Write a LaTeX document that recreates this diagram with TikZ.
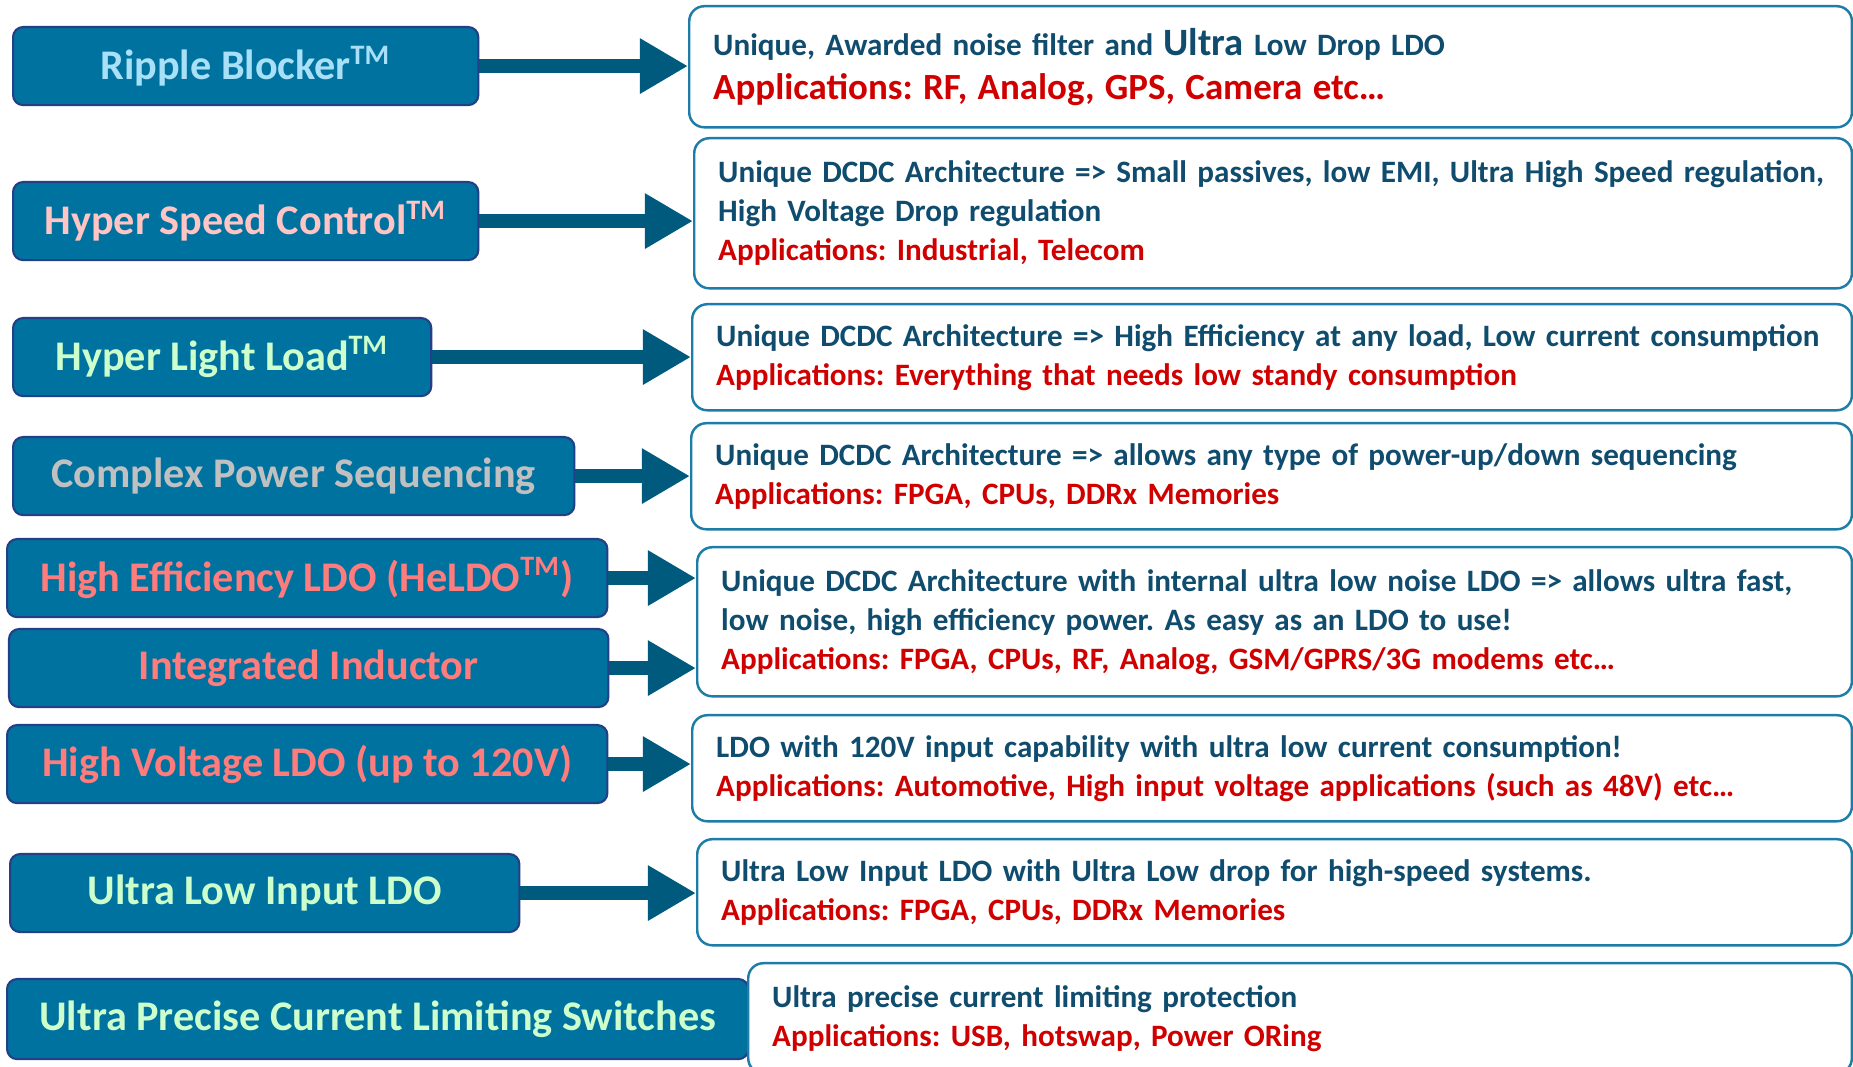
\documentclass[tikz,border=0pt]{standalone}
\usepackage{fontspec}
\setmainfont{Carlito}
\frenchspacing
\hyphenpenalty=10000
\usetikzlibrary{arrows.meta,positioning}
\definecolor{PwrBlue}{HTML}{0072A0}
\definecolor{PwrEdge}{HTML}{233F86}
\definecolor{PwrArrow}{HTML}{005A7E}
\definecolor{PwrLine}{HTML}{1D7DA8}
\definecolor{PwrInk}{HTML}{0F4C6E}
\definecolor{PwrRed}{HTML}{D00000}
\definecolor{TxtSky}{HTML}{A8E0F7}
\definecolor{TxtRose}{HTML}{FFC4C4}
\definecolor{TxtMint}{HTML}{CCFFCC}
\definecolor{TxtGray}{HTML}{C0C0C0}
\definecolor{TxtSalmon}{HTML}{FF7C7C}
\tikzset{
  featbox/.style={draw=PwrEdge, line width=0.6pt, fill=PwrBlue, rounded corners=0.1cm, anchor=north west, minimum height=0.78cm, inner sep=0pt, font=\fontsize{12}{14}\selectfont\bfseries},
  descbox/.style={draw=PwrLine, line width=0.7pt, fill=white, rounded corners=0.15cm, anchor=north west, inner xsep=0.24cm, inner ysep=0pt, align=left, text=PwrInk, font=\fontsize{8.85}{11.1}\selectfont\bfseries, text width=#1},
  featarrow/.style={draw=PwrArrow, line width=0.14cm, -{Triangle[length=0.48cm, width=0.52cm]}}
}
\newcommand{\apps}[1]{\textcolor{PwrRed}{#1}}

\begin{document}
\begin{tikzpicture}[x=0.01cm, y=-0.01cm]
\useasboundingbox (0,0) rectangle (1853,1067);
\clip (0,0) rectangle (1853,1067);
\node[featbox, minimum width=4.65cm, text=TxtSky] (ripple) at (12,26) {Ripple Blocker\textsuperscript{TM}};
\node[featbox, minimum width=4.65cm, text=TxtRose] (speed) at (12,181) {Hyper Speed Control\textsuperscript{TM}};
\node[featbox, minimum width=4.18cm, text=TxtMint] (light) at (12,317) {Hyper Light Load\textsuperscript{TM}};
\node[featbox, minimum width=5.61cm, text=TxtGray] (seq) at (12,436) {Complex Power Sequencing};
\node[featbox, minimum width=6.00cm, text=TxtSalmon] (heldo) at (6,538) {High Efficiency LDO (HeLDO\textsuperscript{TM})};
\node[featbox, minimum width=5.99cm, text=TxtSalmon] (induct) at (8,628) {Integrated Inductor};
\node[featbox, minimum width=6.00cm, text=TxtSalmon] (hvldo) at (6,724) {High Voltage LDO (up to 120V)};
\node[featbox, minimum width=5.09cm, text=TxtMint] (lowin) at (9,853) {Ultra Low Input LDO};
\node[featbox, minimum width=7.41cm, minimum height=0.80cm, text=TxtMint] (limit) at (6,978) {Ultra Precise Current Limiting Switches};
\node[descbox=11.14cm, minimum height=1.21cm] (dripple) at (688,5) {Unique, Awarded noise filter and {\fontsize{11}{12}\selectfont Ultra} Low Drop LDO\\[1.3pt]{\fontsize{10.5}{12}\selectfont\apps{Applications: RF, Analog, GPS, Camera etc…}}};
\node[descbox=11.09cm, minimum height=1.50cm] (dspeed) at (693,137) {Unique DCDC Architecture => Small passives, low EMI, Ultra High Speed regulation,\\High Voltage Drop regulation\\\apps{Applications: Industrial, Telecom}};
\node[descbox=11.11cm, minimum height=1.06cm] (dlight) at (691,303) {Unique DCDC Architecture => High Efficiency at any load, Low current consumption\\\apps{Applications: Everything that needs low standy consumption}};
\node[descbox=11.12cm, minimum height=1.06cm] (dseq) at (690,422) {Unique DCDC Architecture => allows any type of power-up/down sequencing\\\apps{Applications: FPGA, CPUs, DDRx Memories}};
\node[descbox=11.06cm, minimum height=1.49cm] (dheldo) at (696,546) {Unique DCDC Architecture with internal ultra low noise LDO => allows ultra fast,\\low noise, high efficiency power. As easy as an LDO to use!\\\apps{Applications: FPGA, CPUs, RF, Analog, GSM/GPRS/3G modems etc…}};
\node[descbox=11.11cm, minimum height=1.06cm] (dhvldo) at (691,714) {LDO with 120V input capability with ultra low current consumption!\\\apps{Applications: Automotive, High input voltage applications (such as 48V) etc…}};
\node[descbox=11.06cm, minimum height=1.06cm] (dlowin) at (696,838) {Ultra Low Input LDO with Ultra Low drop for high-speed systems.\\\apps{Applications: FPGA, CPUs, DDRx Memories}};
\node[descbox=10.55cm, minimum height=1.10cm] (dlimit) at (747,962) {Ultra precise current limiting protection\\\apps{Applications: USB, hotswap, Power ORing}};
\draw[featarrow] (ripple.east) -- (ripple.east -| dripple.west);
\draw[featarrow] (speed.east) -- (speed.east -| dspeed.west);
\draw[featarrow] (light.east) -- (light.east -| dlight.west);
\draw[featarrow] (seq.east) -- (seq.east -| dseq.west);
\draw[featarrow] (heldo.east) -- (heldo.east -| dheldo.west);
\draw[featarrow] (induct.east) -- (induct.east -| dheldo.west);
\draw[featarrow] (hvldo.east) -- (hvldo.east -| dhvldo.west);
\draw[featarrow] (lowin.east) -- (lowin.east -| dlowin.west);
\end{tikzpicture}
\end{document}
